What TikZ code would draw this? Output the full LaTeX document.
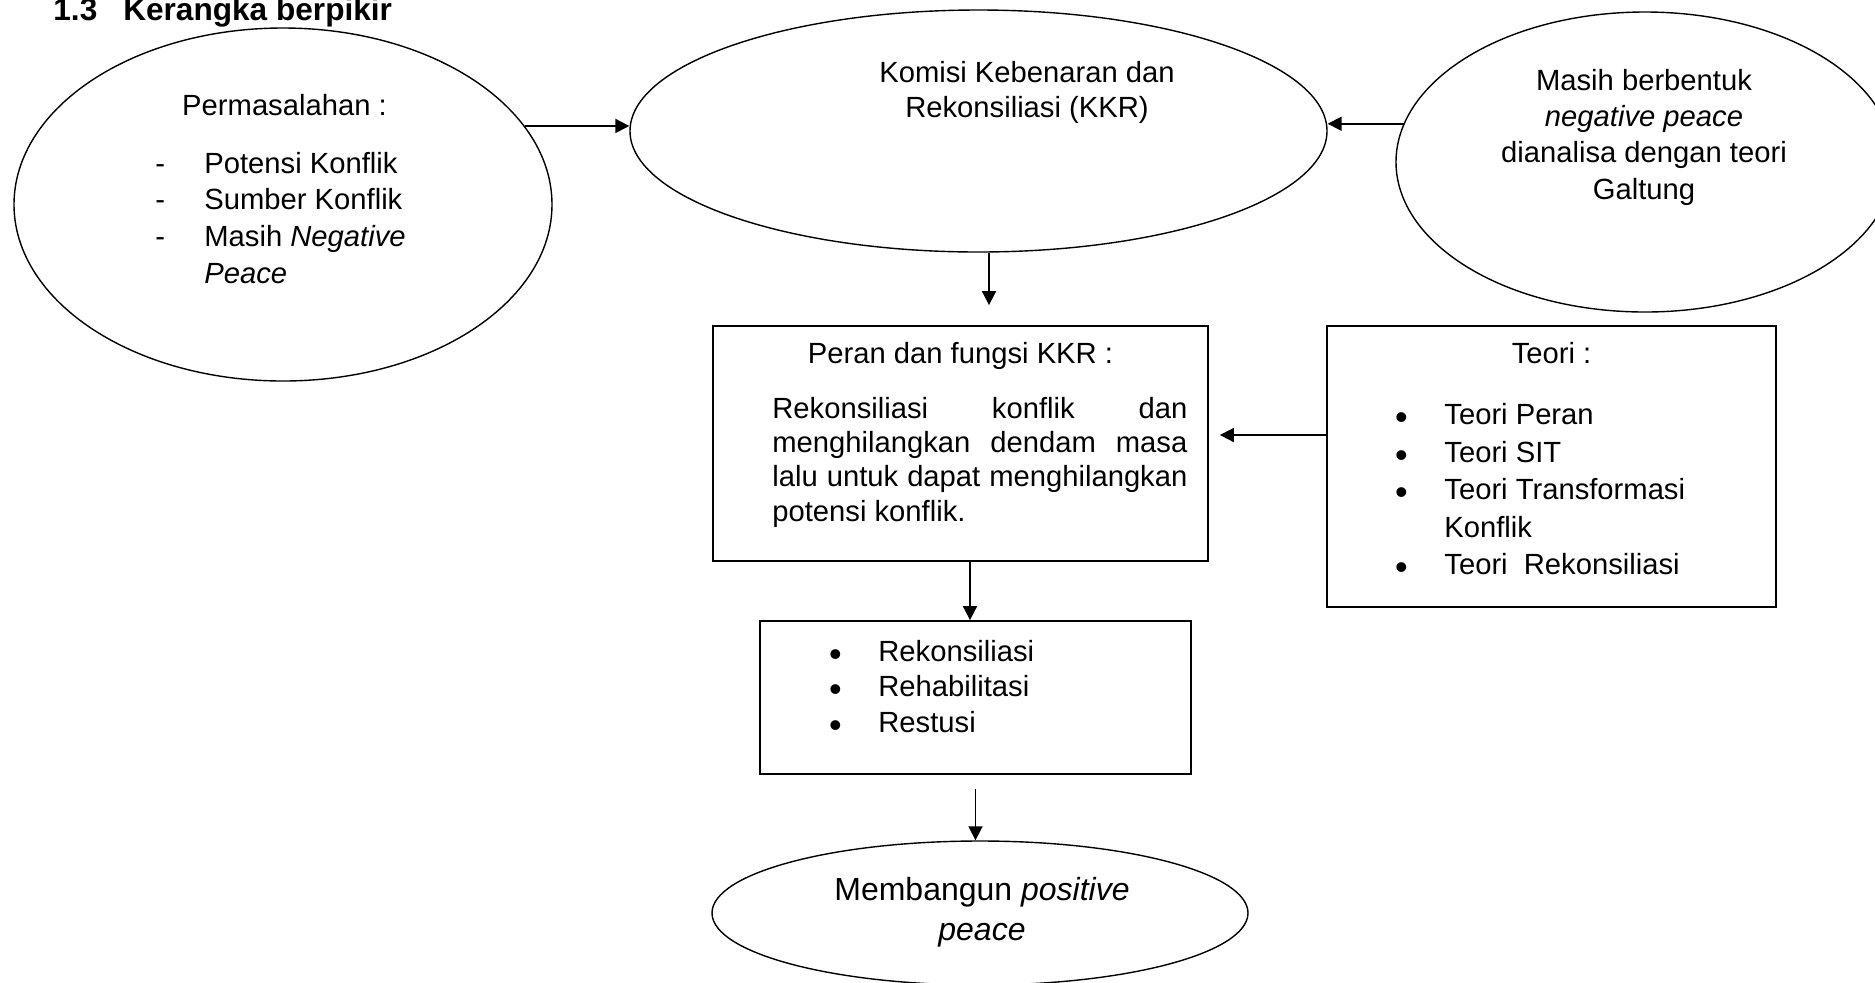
\documentclass[tikz,border=0pt]{standalone}
\usepackage{fontspec}
\setmainfont{Liberation Sans}
\usetikzlibrary{positioning,arrows.meta,shapes.geometric}

% list markers hanging left of the item text
\newcommand{\itm}{\llap{\makebox[24.6pt][l]{\raisebox{-2.5pt}{\fontsize{18}{18}\selectfont •}}}}
\newcommand{\dsh}{\llap{\makebox[24.5pt][l]{-}}}

\begin{document}
\begin{tikzpicture}[
    x=0.5pt, y=-0.5pt,
    font=\fontsize{14.6}{18.3}\selectfont,
    oval/.style={draw, ellipse, line width=0.7pt, inner sep=0pt},
    box/.style={draw, rectangle, line width=0.9pt, inner sep=0pt},
    txt/.style={inner sep=0pt, align=left},
    ctxt/.style={inner sep=0pt, align=center},
    arr/.style={-{Triangle[length=7pt,width=7pt]}, line width=0.9pt}
  ]

  \useasboundingbox (0,0) rectangle (1875,982);
  \clip (0,0) rectangle (1875,982);

  % ========= heading =========
  \node[txt, anchor=base west, font=\bfseries\fontsize{15.8}{19}\selectfont] (title)
    at (53,20) {1.3\hspace{13pt}Kerangka berpikir};

  % ========= top row of ellipses =========
  \node[oval, minimum width=269pt, minimum height=176.5pt] (perm) at (283,204.5) {};
  \node[oval, minimum width=348.5pt, minimum height=121pt] (kkr)  at (978.5,131) {};
  \node[oval, minimum width=249pt, minimum height=150pt]   (galt) at (1645,162) {};

  \node[txt, anchor=base] (permhead) at (284.5,115) {Permasalahan :};
  \node[txt, anchor=north west] (permlist) at (204,151.7)
    {\dsh Potensi Konflik\\
     \dsh Sumber Konflik\\
     \dsh Masih \textit{Negative}\\
     \textit{Peace}};

  \node[ctxt, anchor=north, font=\fontsize{14.6}{17.5}\selectfont] (kkrtxt) at (1027,60.7)
    {Komisi Kebenaran dan\\
     Rekonsiliasi (KKR)};

  \node[ctxt, anchor=north, font=\fontsize{14.6}{18.15}\selectfont] (galttxt) at (1644,68.7)
    {Masih berbentuk\\
     \textit{negative peace}\\
     dianalisa dengan teori\\
     Galtung};

  \draw[arr] (perm.18.8) -- (perm.18.8 -| kkr.west);
  \draw[arr] (galt.171) -- (galt.171 -| kkr.east);

  % ========= role box and theory box =========
  \node[box, minimum width=247.5pt, minimum height=117.5pt] (peran) at (960.5,443.5) {};
  \node[box, minimum width=224.5pt, minimum height=140.5pt] (teori) at (1551.5,466.5) {};

  \node[txt, anchor=base] (peranhead) at (960.5,363) {Peran dan fungsi KKR :};
  \node[txt, anchor=north west, text width=207.5pt, align=justify,
        font=\fontsize{14.6}{17.15}\selectfont] (perantxt) at (772,396.7)
    {\tolerance=10000 \hyphenpenalty=10000
     Rekonsiliasi konflik dan\linebreak
     menghilangkan dendam masa\linebreak
     lalu untuk dapat menghilangkan\linebreak
     potensi konflik.};

  \node[txt, anchor=base] (teorihead) at (1551.5,363) {Teori :};
  \node[txt, anchor=north west, font=\fontsize{14.6}{18.75}\selectfont] (teoritxt) at (1444,403)
    {\itm Teori Peran\\
     \itm Teori SIT\\
     \itm Teori Transformasi\\
     Konflik\\
     \itm Teori\ \ Rekonsiliasi};

  \coordinate (kkrout) at ([xshift=5.25pt]kkr.south);
  \draw[arr, shorten >=10pt] (kkrout) -- (kkrout |- peran.north);

  \coordinate (teoriin) at ([yshift=4.25pt]peran.east);
  \draw[arr, shorten >=5.5pt] (teoriin -| teori.west) -- (teoriin);

  % ========= outcome list =========
  \node[box, minimum width=215.5pt, minimum height=76.5pt] (list) at (975.5,697.5) {};
  \node[txt, anchor=north west, font=\fontsize{14.6}{17.75}\selectfont] (listtxt) at (878,639.7)
    {\itm Rekonsiliasi\\
     \itm Rehabilitasi\\
     \itm Restusi};

  \coordinate (peranout) at ([xshift=4.75pt]peran.south);
  \draw[arr] (peranout) -- (peranout |- list.north);

  % ========= goal =========
  \node[oval, minimum width=268pt, minimum height=72pt] (peace) at (980,913) {};
  \node[ctxt, anchor=north, font=\fontsize{16}{20}\selectfont] (peacetxt) at (982,877)
    {Membangun \textit{positive}\\
     \textit{peace}};

  \draw[arr, shorten <=7pt] (list.south) -- (list.south |- peace.north);

\end{tikzpicture}
\end{document}
